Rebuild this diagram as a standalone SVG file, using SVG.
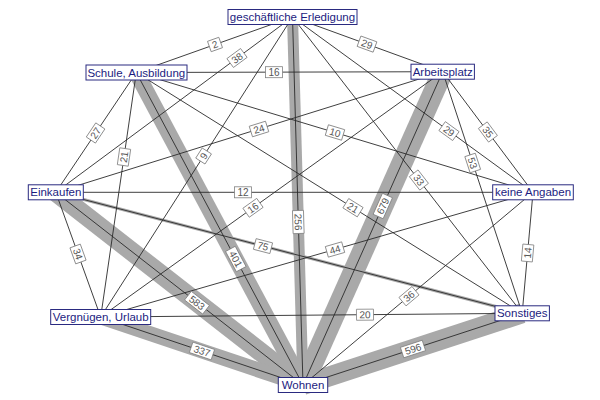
<svg xmlns="http://www.w3.org/2000/svg" width="600" height="400" viewBox="0 0 600 400">
<style>
.band{stroke:#a9a9a9;fill:none;stroke-linecap:butt}
.edge{stroke:#2a2a2a;stroke-width:0.9;fill:none}
.lab rect{fill:#fff;stroke:#808080;stroke-width:0.8}
.lab text{font-family:"Liberation Sans",Arial,sans-serif;font-size:10px;fill:#555;text-anchor:middle}
.node rect{fill:#fff;stroke:#2a2a80;stroke-width:1}
.node text{font-family:"Liberation Sans",Arial,sans-serif;font-size:11.5px;fill:#1c1c80;text-anchor:middle}
</style>
<rect width="600" height="400" fill="#fff"/>
<g id="edges">
  <g id="bands">
    <line class="band" x1="292.5" y1="17" x2="303" y2="385" stroke-width="11"/>
    <line class="band" x1="136.3" y1="72.5" x2="303" y2="385" stroke-width="16"/>
    <line class="band" x1="442.7" y1="71.7" x2="303" y2="385" stroke-width="21"/>
    <line class="band" x1="55.8" y1="192.3" x2="303" y2="385" stroke-width="19"/>
    <line class="band" x1="100.7" y1="317" x2="303" y2="385" stroke-width="15"/>
    <line class="band" x1="522.2" y1="313.3" x2="303" y2="385" stroke-width="20"/>
    <line class="band" x1="55.8" y1="192.3" x2="522.2" y2="313.3" stroke-width="3"/>
  </g>
  <g id="lines">
    <line class="edge" x1="292.5" y1="17" x2="136.3" y2="72.5"/>
    <line class="edge" x1="292.5" y1="17" x2="55.8" y2="192.3"/>
    <line class="edge" x1="292.5" y1="17" x2="442.7" y2="71.7"/>
    <line class="edge" x1="292.5" y1="17" x2="303" y2="385"/>
    <line class="edge" x1="292.5" y1="17" x2="100.7" y2="317"/>
    <line class="edge" x1="292.5" y1="17" x2="533" y2="192.3"/>
    <line class="edge" x1="292.5" y1="17" x2="522.2" y2="313.3"/>
    <line class="edge" x1="136.3" y1="72.5" x2="442.7" y2="71.7"/>
    <line class="edge" x1="136.3" y1="72.5" x2="55.8" y2="192.3"/>
    <line class="edge" x1="136.3" y1="72.5" x2="100.7" y2="317"/>
    <line class="edge" x1="136.3" y1="72.5" x2="303" y2="385"/>
    <line class="edge" x1="136.3" y1="72.5" x2="533" y2="192.3"/>
    <line class="edge" x1="136.3" y1="72.5" x2="522.2" y2="313.3"/>
    <line class="edge" x1="442.7" y1="71.7" x2="55.8" y2="192.3"/>
    <line class="edge" x1="442.7" y1="71.7" x2="100.7" y2="317"/>
    <line class="edge" x1="442.7" y1="71.7" x2="303" y2="385"/>
    <line class="edge" x1="442.7" y1="71.7" x2="533" y2="192.3"/>
    <line class="edge" x1="442.7" y1="71.7" x2="522.2" y2="313.3"/>
    <line class="edge" x1="55.8" y1="192.3" x2="533" y2="192.3"/>
    <line class="edge" x1="55.8" y1="192.3" x2="522.2" y2="313.3" stroke-width="1.4"/>
    <line class="edge" x1="55.8" y1="192.3" x2="100.7" y2="317"/>
    <line class="edge" x1="55.8" y1="192.3" x2="303" y2="385"/>
    <line class="edge" x1="533" y1="192.3" x2="100.7" y2="317"/>
    <line class="edge" x1="533" y1="192.3" x2="522.2" y2="313.3"/>
    <line class="edge" x1="533" y1="192.3" x2="303" y2="385"/>
    <line class="edge" x1="100.7" y1="317" x2="522.2" y2="313.3"/>
    <line class="edge" x1="100.7" y1="317" x2="303" y2="385"/>
    <line class="edge" x1="522.2" y1="313.3" x2="303" y2="385"/>
  </g>
  <g id="edge-labels" class="lab">
    <g transform="translate(215,44.5) rotate(-19.6)"><rect x="-6" y="-5.5" width="12" height="11"/><text y="3.6">2</text></g>
    <g transform="translate(237,58) rotate(-36.5)"><rect x="-8.5" y="-5.5" width="17" height="11"/><text y="3.6">38</text></g>
    <g transform="translate(367,44.1) rotate(20)"><rect x="-8.5" y="-5.5" width="17" height="11"/><text y="3.6">29</text></g>
    <g transform="translate(298.3,222) rotate(88.4)"><rect x="-11.5" y="-5.5" width="23" height="11"/><text y="3.6">256</text></g>
    <g transform="translate(203.6,156) rotate(-57.4)"><rect x="-6" y="-5.5" width="12" height="11"/><text y="3.6">9</text></g>
    <g transform="translate(449,131.1) rotate(36.1)"><rect x="-8.5" y="-5.5" width="17" height="11"/><text y="3.6">29</text></g>
    <g transform="translate(418.9,180) rotate(52.2)"><rect x="-8.5" y="-5.5" width="17" height="11"/><text y="3.6">33</text></g>
    <g transform="translate(274,72.2)"><rect x="-8.5" y="-5.5" width="17" height="11"/><text y="3.6">16</text></g>
    <g transform="translate(95.6,133) rotate(-56.1)"><rect x="-8.5" y="-5.5" width="17" height="11"/><text y="3.6">27</text></g>
    <g transform="translate(124,157) rotate(-81.7)"><rect x="-8.5" y="-5.5" width="17" height="11"/><text y="3.6">21</text></g>
    <g transform="translate(235.8,259) rotate(61.9)"><rect x="-11.5" y="-5.5" width="23" height="11"/><text y="3.6">401</text></g>
    <g transform="translate(335,132.5) rotate(16.8)"><rect x="-8.5" y="-5.5" width="17" height="11"/><text y="3.6">10</text></g>
    <g transform="translate(353,207.7) rotate(32)"><rect x="-8.5" y="-5.5" width="17" height="11"/><text y="3.6">21</text></g>
    <g transform="translate(259,129) rotate(-17.3)"><rect x="-8.5" y="-5.5" width="17" height="11"/><text y="3.6">24</text></g>
    <g transform="translate(253,207.8) rotate(-35.6)"><rect x="-8.5" y="-5.5" width="17" height="11"/><text y="3.6">16</text></g>
    <g transform="translate(382.8,206) rotate(-66)"><rect x="-11.5" y="-5.5" width="23" height="11"/><text y="3.6">679</text></g>
    <g transform="translate(487.9,132) rotate(53.2)"><rect x="-8.5" y="-5.5" width="17" height="11"/><text y="3.6">35</text></g>
    <g transform="translate(472.7,163) rotate(71.8)"><rect x="-8.5" y="-5.5" width="17" height="11"/><text y="3.6">53</text></g>
    <g transform="translate(243,192.3)"><rect x="-8.5" y="-5.5" width="17" height="11"/><text y="3.6">12</text></g>
    <g transform="translate(263,246.1) rotate(14.5)"><rect x="-8.5" y="-5.5" width="17" height="11"/><text y="3.6">75</text></g>
    <g transform="translate(78,254) rotate(70.2)"><rect x="-8.5" y="-5.5" width="17" height="11"/><text y="3.6">34</text></g>
    <g transform="translate(197,302.7) rotate(37.9)"><rect x="-11.5" y="-5.5" width="23" height="11"/><text y="3.6">583</text></g>
    <g transform="translate(335,249.5) rotate(-16.1)"><rect x="-8.5" y="-5.5" width="17" height="11"/><text y="3.6">44</text></g>
    <g transform="translate(527.6,253) rotate(-84.9)"><rect x="-8.5" y="-5.5" width="17" height="11"/><text y="3.6">14</text></g>
    <g transform="translate(409,296.2) rotate(-40)"><rect x="-8.5" y="-5.5" width="17" height="11"/><text y="3.6">36</text></g>
    <g transform="translate(365,314.7) rotate(-0.5)"><rect x="-8.5" y="-5.5" width="17" height="11"/><text y="3.6">20</text></g>
    <g transform="translate(202,351) rotate(18.6)"><rect x="-11.5" y="-5.5" width="23" height="11"/><text y="3.6">337</text></g>
    <g transform="translate(413,349) rotate(-18.1)"><rect x="-11.5" y="-5.5" width="23" height="11"/><text y="3.6">596</text></g>
  </g>
</g>
<g id="node-geschaeftliche" class="node"><rect x="228" y="9.5" width="129" height="15"/><text x="292.5" y="21">geschäftliche Erledigung</text></g>
<g id="node-schule" class="node"><rect x="86" y="65" width="101" height="15"/><text x="136.3" y="76.5">Schule, Ausbildung</text></g>
<g id="node-arbeitsplatz" class="node"><rect x="411" y="64.2" width="63.4" height="15"/><text x="442.7" y="75.7">Arbeitsplatz</text></g>
<g id="node-einkaufen" class="node"><rect x="28.3" y="184.8" width="55" height="15"/><text x="55.8" y="196.3">Einkaufen</text></g>
<g id="node-keine" class="node"><rect x="492.7" y="184.8" width="80.6" height="15"/><text x="533" y="196.3">keine Angaben</text></g>
<g id="node-vergnuegen" class="node"><rect x="50.7" y="309.5" width="100" height="15"/><text x="100.7" y="321">Vergnügen, Urlaub</text></g>
<g id="node-sonstiges" class="node"><rect x="495" y="305.8" width="54.4" height="15"/><text x="522.2" y="317.3">Sonstiges</text></g>
<g id="node-wohnen" class="node"><rect x="278.3" y="377.5" width="49.4" height="15"/><text x="303" y="389">Wohnen</text></g>
</svg>
